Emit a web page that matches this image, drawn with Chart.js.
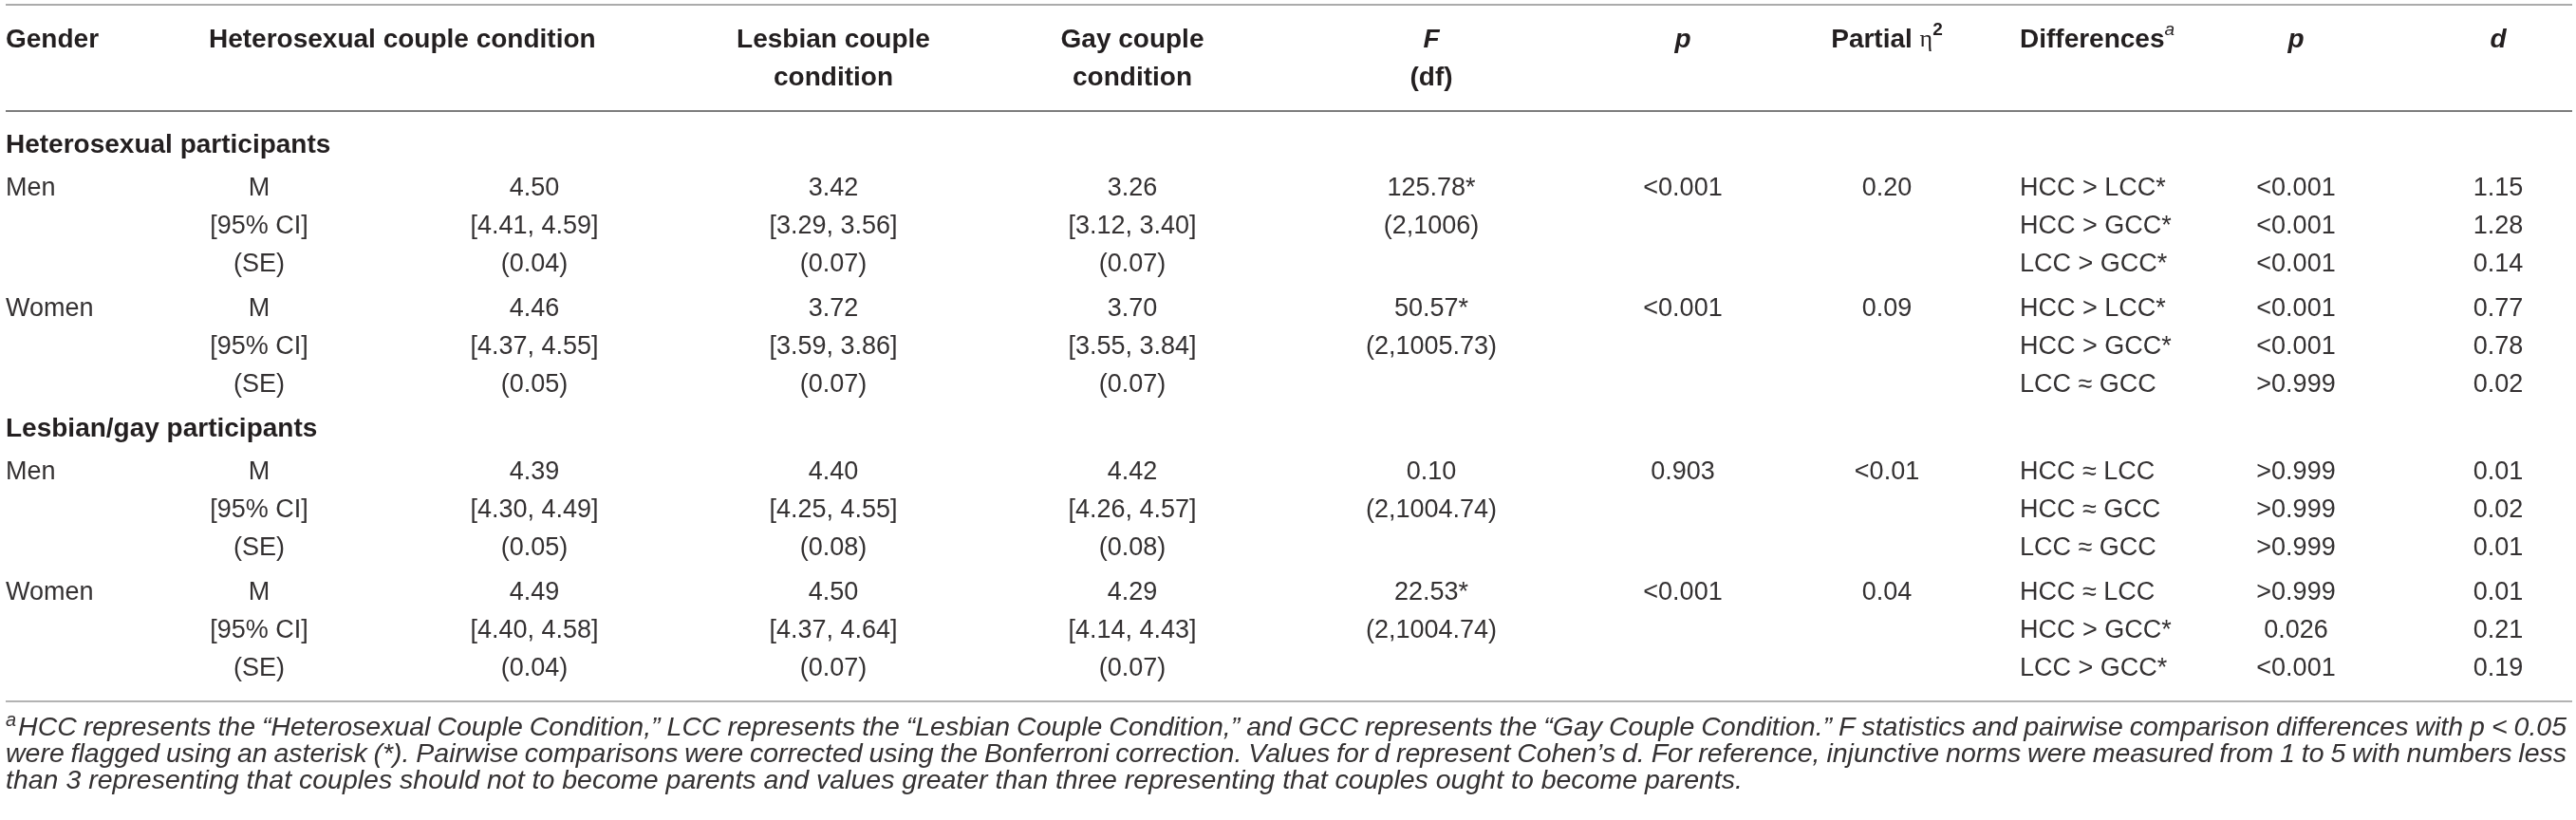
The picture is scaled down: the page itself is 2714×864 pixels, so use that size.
<!DOCTYPE html>
<html>
<head>
<meta charset="utf-8">
<script src="https://cdn.jsdelivr.net/npm/chart.js@4.4.1/dist/chart.umd.min.js"></script>
<style>
  html, body { margin: 0; padding: 0; background: #fff; }
  #tbl { display: block; }
</style>
</head>
<body>
<canvas id="tbl" width="2714" height="864"></canvas>
<script>
// -----------------------------
// Table data
// -----------------------------
const groups = ["Heterosexual participants", "Lesbian/gay participants"];
const genders = ["Men", "Women"];
const statLabels = ["M", "[95% CI]", "(SE)"];

const hccValues = [
  "4.50", "[4.41, 4.59]", "(0.04)",
  "4.46", "[4.37, 4.55]", "(0.05)",
  "4.39", "[4.30, 4.49]", "(0.05)",
  "4.49", "[4.40, 4.58]", "(0.04)"
];
const lccValues = [
  "3.42", "[3.29, 3.56]", "(0.07)",
  "3.72", "[3.59, 3.86]", "(0.07)",
  "4.40", "[4.25, 4.55]", "(0.08)",
  "4.50", "[4.37, 4.64]", "(0.07)"
];
const gccValues = [
  "3.26", "[3.12, 3.40]", "(0.07)",
  "3.70", "[3.55, 3.84]", "(0.07)",
  "4.42", "[4.26, 4.57]", "(0.08)",
  "4.29", "[4.14, 4.43]", "(0.07)"
];
const fValues = ["125.78*", "50.57*", "0.10", "22.53*"];
const dfValues = ["(2,1006)", "(2,1005.73)", "(2,1004.74)", "(2,1004.74)"];
const pValues = ["<0.001", "<0.001", "0.903", "<0.001"];
const etaValues = ["0.20", "0.09", "<0.01", "0.04"];

const differences = [
  "HCC > LCC*", "HCC > GCC*", "LCC > GCC*",
  "HCC > LCC*", "HCC > GCC*", "LCC \u2248 GCC",
  "HCC \u2248 LCC", "HCC \u2248 GCC", "LCC \u2248 GCC",
  "HCC \u2248 LCC", "HCC > GCC*", "LCC > GCC*"
];
const diffP = [
  "<0.001", "<0.001", "<0.001",
  "<0.001", "<0.001", ">0.999",
  ">0.999", ">0.999", ">0.999",
  ">0.999", "0.026", "<0.001"
];
const diffD = [
  "1.15", "1.28", "0.14",
  "0.77", "0.78", "0.02",
  "0.01", "0.02", "0.01",
  "0.01", "0.21", "0.19"
];

const footnoteLines = [
  "HCC represents the \u201cHeterosexual Couple Condition,\u201d LCC represents the \u201cLesbian Couple Condition,\u201d and GCC represents the \u201cGay Couple Condition.\u201d F statistics and pairwise comparison differences with p < 0.05",
  "were flagged using an asterisk (*). Pairwise comparisons were corrected using the Bonferroni correction. Values for d represent Cohen\u2019s d. For reference, injunctive norms were measured from 1 to 5 with numbers less",
  "than 3 representing that couples should not to become parents and values greater than three representing that couples ought to become parents."
];

// -----------------------------
// Layout (design pixels, mapped by the scales)
// -----------------------------
const FONT = "'Liberation Sans', Arial, Helvetica, sans-serif";
const TEXT_COLOR = "#231f20";
const LIGHT_COLOR = "#343132";
const BODY_FONT = `27px ${FONT}`;
const BOLD_FONT = `bold 28px ${FONT}`;

const colX = {
  gender: 6, stat: 273, hcc: 563, lcc: 878, gcc: 1193,
  f: 1508, p: 1773, eta: 1988, diff: 2128, dp: 2419, dd: 2632
};
const headY = [42, 82];
const rules = [
  { y: 5, color: "#ababab" },
  { y: 117, color: "#7d7d7d" },
  { y: 739, color: "#b3b3b3" }
];
const footY = [767, 795, 823];

// row positions: group header, then 2 gender blocks of 3 lines
const groupY = [];
const rowY = [];
(function layoutRows() {
  let y = 153;
  groups.forEach((g, gi) => {
    if (gi > 0) y += 46;
    groupY.push(y);
    y += 46;
    genders.forEach((gen, k) => {
      if (k > 0) y += 47;
      statLabels.forEach((s, i) => {
        if (i > 0) y += 40;
        rowY.push(y);
      });
    });
  });
})();

const nRows = rowY.length;
const rowIdx = [...Array(nRows).keys()];

function textColumn(key, align, texts, font, color) {
  return {
    type: "scatter",
    data: rowIdx.map(r => ({ x: colX[key], y: rowY[r] })),
    texts: texts,
    align: align,
    font: font || BODY_FONT,
    color: color || LIGHT_COLOR,
    pointRadius: 0,
    pointHoverRadius: 0
  };
}

const datasets = [
  textColumn("gender", "left", rowIdx.map(r => r % 3 === 0 ? genders[Math.floor(r / 3) % 2] : "")),
  textColumn("stat", "center", rowIdx.map(r => statLabels[r % 3])),
  textColumn("hcc", "center", hccValues),
  textColumn("lcc", "center", lccValues),
  textColumn("gcc", "center", gccValues),
  textColumn("f", "center", rowIdx.map(r => {
    const b = Math.floor(r / 3);
    return r % 3 === 0 ? fValues[b] : r % 3 === 1 ? dfValues[b] : "";
  })),
  textColumn("p", "center", rowIdx.map(r => r % 3 === 0 ? pValues[Math.floor(r / 3)] : "")),
  textColumn("eta", "center", rowIdx.map(r => r % 3 === 0 ? etaValues[Math.floor(r / 3)] : "")),
  textColumn("diff", "left", differences),
  textColumn("dp", "center", diffP),
  textColumn("dd", "center", diffD),
  {
    type: "scatter",
    data: groupY.map(y => ({ x: colX.gender, y: y })),
    texts: groups,
    align: "left",
    font: BOLD_FONT,
    color: TEXT_COLOR,
    pointRadius: 0,
    pointHoverRadius: 0
  }
];

// -----------------------------
// Header cells (rich text segments)
// -----------------------------
const B = BOLD_FONT;
const BI = `italic bold 28px ${FONT}`;
const SUP = `bold 19px ${FONT}`;
const SUPI = `italic 19px ${FONT}`;
const ETA = `26px 'Liberation Serif', 'DejaVu Serif', serif`;

const headerCells = [
  { col: "gender", align: "left", line: 0, seg: [["Gender", B]] },
  { col: 220, align: "left", line: 0, seg: [["Heterosexual couple condition", B]] },
  { col: "lcc", align: "center", line: 0, seg: [["Lesbian couple", B]] },
  { col: "lcc", align: "center", line: 1, seg: [["condition", B]] },
  { col: "gcc", align: "center", line: 0, seg: [["Gay couple", B]] },
  { col: "gcc", align: "center", line: 1, seg: [["condition", B]] },
  { col: "f", align: "center", line: 0, seg: [["F", BI]] },
  { col: "f", align: "center", line: 1, seg: [["(df)", B]] },
  { col: "p", align: "center", line: 0, seg: [["p", BI]] },
  { col: "eta", align: "center", line: 0, seg: [["Partial ", B], ["\u03b7", ETA], ["2", SUP, -10]] },
  { col: "diff", align: "left", line: 0, seg: [["Differences", B], ["a", SUPI, -10]] },
  { col: "dp", align: "center", line: 0, seg: [["p", BI]] },
  { col: "dd", align: "center", line: 0, seg: [["d", BI]] }
];

function drawSegments(ctx, seg, x, y, align) {
  let total = 0;
  seg.forEach(s => { ctx.font = s[1]; total += ctx.measureText(s[0]).width; });
  let cx = align === "center" ? x - total / 2 : x;
  ctx.textAlign = "left";
  seg.forEach(s => {
    ctx.font = s[1];
    ctx.fillText(s[0], cx, y + (s[2] || 0));
    cx += ctx.measureText(s[0]).width;
  });
}

// -----------------------------
// Plugins
// -----------------------------
const cellText = {
  id: "cellText",
  afterDatasetsDraw(chart) {
    const ctx = chart.ctx;
    const xs = chart.scales.x, ys = chart.scales.y;
    ctx.save();
    ctx.textBaseline = "middle";

    chart.data.datasets.forEach((ds, di) => {
      const meta = chart.getDatasetMeta(di);
      ctx.font = ds.font;
      ctx.fillStyle = ds.color;
      ctx.textAlign = ds.align;
      meta.data.forEach((el, i) => {
        const t = ds.texts[i];
        if (t) ctx.fillText(t, el.x, el.y);
      });
    });

    ctx.fillStyle = TEXT_COLOR;
    headerCells.forEach(h => {
      const xv = typeof h.col === "number" ? h.col : colX[h.col];
      drawSegments(ctx, h.seg, xs.getPixelForValue(xv), ys.getPixelForValue(headY[h.line]), h.align);
    });

    // footnote, justified on the first two lines
    ctx.fillStyle = LIGHT_COLOR;
    const left = xs.getPixelForValue(6);
    const right = xs.getPixelForValue(2704);
    let size = 26;
    ctx.font = `italic ${size}px ${FONT}`;
    const w3 = ctx.measureText(footnoteLines[2]).width;
    size = size * 1830 / w3;
    const noteFont = `italic ${size.toFixed(2)}px ${FONT}`;
    const supFont = `italic ${(size * 0.7).toFixed(2)}px ${FONT}`;

    footnoteLines.forEach((line, li) => {
      const y = ys.getPixelForValue(footY[li]);
      let x = left;
      if (li === 0) {
        ctx.font = supFont;
        ctx.textAlign = "left";
        ctx.fillText("a", x, y - 8);
        x += ctx.measureText("a").width + 2;
      }
      ctx.font = noteFont;
      ctx.textAlign = "left";
      if (li < 2) {
        const words = line.split(" ");
        const wordsW = words.reduce((s, w) => s + ctx.measureText(w).width, 0);
        const gap = (right - x - wordsW) / (words.length - 1);
        words.forEach(w => {
          ctx.fillText(w, x, y);
          x += ctx.measureText(w).width + gap;
        });
      } else {
        ctx.fillText(line, x, y);
      }
    });
    ctx.restore();
  }
};

// -----------------------------
// Chart
// -----------------------------
const tableChart = new Chart(document.getElementById("tbl").getContext("2d"), {
  type: "scatter",
  data: { datasets: datasets },
  options: {
    responsive: false,
    devicePixelRatio: 1,
    animation: false,
    events: [],
    layout: { padding: { left: 6, right: 4, top: 0, bottom: 0 } },
    plugins: {
      legend: { display: false },
      tooltip: { enabled: false }
    },
    scales: {
      x: {
        type: "linear",
        min: 6,
        max: 2710,
        display: false
      },
      y: {
        type: "linear",
        min: 0,
        max: 864,
        reverse: true,
        display: true,
        border: { display: false },
        ticks: { display: false },
        afterBuildTicks: scale => {
          scale.ticks = rules.map(r => ({ value: r.y }));
        },
        afterFit: scale => { scale.width = 0; },
        grid: {
          drawTicks: false,
          lineWidth: 2,
          color: ctx => {
            const r = rules.find(rr => ctx.tick && rr.y === ctx.tick.value);
            return r ? r.color : "rgba(0,0,0,0)";
          }
        }
      }
    }
  },
  plugins: [cellText]
});
</script>
</body>
</html>
